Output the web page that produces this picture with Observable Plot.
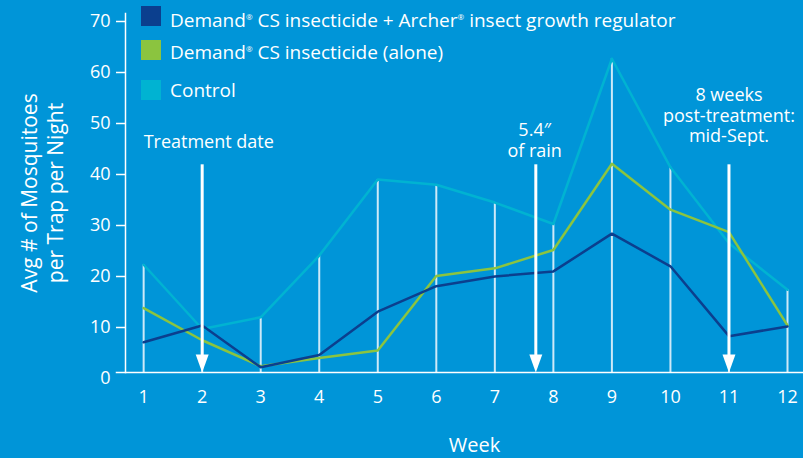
<!DOCTYPE html>
<html>
<head>
<meta charset="utf-8">
<script src="https://cdn.jsdelivr.net/npm/d3@7"></script>
<script src="https://cdn.jsdelivr.net/npm/@observablehq/plot@0.6"></script>
<style>
  html, body { margin: 0; padding: 0; background: #0095d8; }
  #wrap { position: relative; width: 803px; height: 458px; font-family: "Open Sans", sans-serif; color: #fff; overflow: hidden; }
  .lg { position: absolute; left: 141px; display: flex; align-items: center; height: 20px; font-size: 19px; white-space: nowrap; }
  .lg .sw { width: 20px; height: 20px; margin-right: 9px; flex: none; }
  .lg sup { font-size: 8px; vertical-align: 0; position: relative; top: -7px; }
</style>
</head>
<body>
<div id="wrap"></div>
<script>
// ---- data ----
const weeks = [1, 2, 3, 4, 5, 6, 7, 8, 9, 10, 11, 12];
const demandArcher = [7.1, 10.4, 2.2, 4.6, 13.1, 18.1, 20.0, 21.0, 28.4, 22.0, 8.3, 10.2];
const demandAlone  = [13.8, 7.5, 2.4, 4.0, 5.5, 20.1, 21.6, 25.2, 42.1, 33.1, 28.7, 10.4];
const control      = [22.3, 9.7, 12.0, 24.1, 39.0, 38.0, 34.5, 30.3, 62.7, 41.4, 26.5, 17.4];
const yTicks = [0, 10, 20, 30, 40, 50, 60, 70];
const seriesNames = [
  "Demand® CS insecticide + Archer® insect growth regulator",
  "Demand® CS insecticide (alone)",
  "Control"
];
const seriesColors = ["#0b3f8e", "#8bc43f", "#00b3d2"];
const annotations = [
  {week: 2,    top: 41.9, label: "Treatment date",                     labelWeek: 1,    labelY: 46.5, anchor: "start"},
  {week: 7.7,  top: 41.9, label: "5.4″\nof rain",                      labelWeek: 7.68, labelY: 46.8, anchor: "middle"},
  {week: 11,   top: 41.9, label: "8 weeks\npost-treatment:\nmid-Sept.", labelWeek: 11,   labelY: 51.6, anchor: "middle"}
];

// ---- tables ----
const rows = [];
[demandArcher, demandAlone, control].forEach((vals, i) => {
  weeks.forEach((w, j) => rows.push({week: w, value: vals[j], series: seriesNames[i]}));
});
const ctrlRows = weeks.map((w, j) => ({week: w, value: control[j]}));

const downTriangle = {
  draw(context, size) {
    const r = Math.sqrt(size / Math.PI);
    context.moveTo(0, 0);
    context.lineTo(-0.72 * r, -2 * r);
    context.lineTo(0.72 * r, -2 * r);
    context.closePath();
  }
};

const chart = Plot.plot({
  width: 803,
  height: 458,
  marginLeft: 125,
  marginRight: 16,
  marginTop: 21,
  marginBottom: 80,
  style: {background: "transparent", color: "#fff", fontFamily: "Open Sans, sans-serif", fontSize: "18px", overflow: "visible"},
  x: {domain: [0.69, 12], label: null},
  y: {domain: [0, 70], label: null},
  marks: [
    // weekly vertical rules up to control value
    Plot.ruleX(ctrlRows, {x: "week", y1: "value", y2: 0, insetBottom: 6, stroke: "#cde9f8", strokeWidth: 2}),
    // series lines
    Plot.line(rows.filter(d => d.series === seriesNames[2]), {x: "week", y: "value", stroke: seriesColors[2], strokeWidth: 2.5}),
    Plot.line(rows.filter(d => d.series === seriesNames[1]), {x: "week", y: "value", stroke: seriesColors[1], strokeWidth: 2.5}),
    Plot.line(rows.filter(d => d.series === seriesNames[0]), {x: "week", y: "value", stroke: seriesColors[0], strokeWidth: 2.5}),
    // axes lines
    Plot.frame({anchor: "left", stroke: "#fff", strokeWidth: 1.5, insetTop: -8, insetBottom: 6}),
    Plot.frame({anchor: "bottom", stroke: "#fff", strokeWidth: 1.5, insetBottom: 6, insetLeft: -9, insetRight: -20}),
    // y axis
    Plot.axisY(yTicks.slice(1), {tickSize: 9, stroke: "#fff", strokeWidth: 1.5, tickFormat: () => ""}),
    Plot.axisY(yTicks, {tickSize: 0, tickPadding: 15, fill: "#fff", fontSize: 18}),
    // x axis
    Plot.axisX(weeks, {tickSize: 0, tickPadding: 12, fill: "#fff", fontSize: 18}),
    Plot.text(["Week"], {frameAnchor: "bottom", lineAnchor: "middle", textAnchor: "middle", dx: 18, dy: 67, fill: "#fff", fontSize: 20}),
    Plot.text(["Avg # of Mosquitoes\nper Trap per Night"], {frameAnchor: "left", textAnchor: "middle", lineAnchor: "middle", dx: -84, dy: -7, rotate: -90, fill: "#fff", fontSize: 21, lineHeight: 1.25}),
    // arrows
    Plot.ruleX(annotations, {x: "week", y1: "top", y2: 0, insetBottom: 14, stroke: "#fff", strokeWidth: 3}),
    Plot.dot(annotations, {x: "week", y: 0, dy: -6, symbol: downTriangle, r: 9, fill: "#fff", stroke: "none"}),
    Plot.text(annotations.filter(d => d.anchor === "start"), {x: "labelWeek", y: "labelY", text: "label", textAnchor: "start", fill: "#fff", fontSize: 18, lineHeight: 1.14}),
    Plot.text(annotations.filter(d => d.anchor === "middle"), {x: "labelWeek", y: "labelY", text: "label", textAnchor: "middle", fill: "#fff", fontSize: 18, lineHeight: 1.14})
  ]
});

const wrap = document.getElementById("wrap");
wrap.appendChild(chart);

// legend (HTML overlay)
const legendTops = [6, 40, 80];
const textShift = [3.5, 1.5, 0];
seriesNames.forEach((name, i) => {
  const item = document.createElement("div");
  item.className = "lg";
  item.style.top = legendTops[i] + "px";
  const sw = document.createElement("span");
  sw.className = "sw";
  sw.style.background = seriesColors[i];
  const tx = document.createElement("span");
  tx.style.position = "relative";
  tx.style.top = textShift[i] + "px";
  tx.innerHTML = name.replace(/®/g, "<sup>®</sup>");
  item.appendChild(sw);
  item.appendChild(tx);
  wrap.appendChild(item);
});
chart.style.position = "absolute";
chart.style.left = "0";
chart.style.top = "0";
</script>
</body>
</html>
